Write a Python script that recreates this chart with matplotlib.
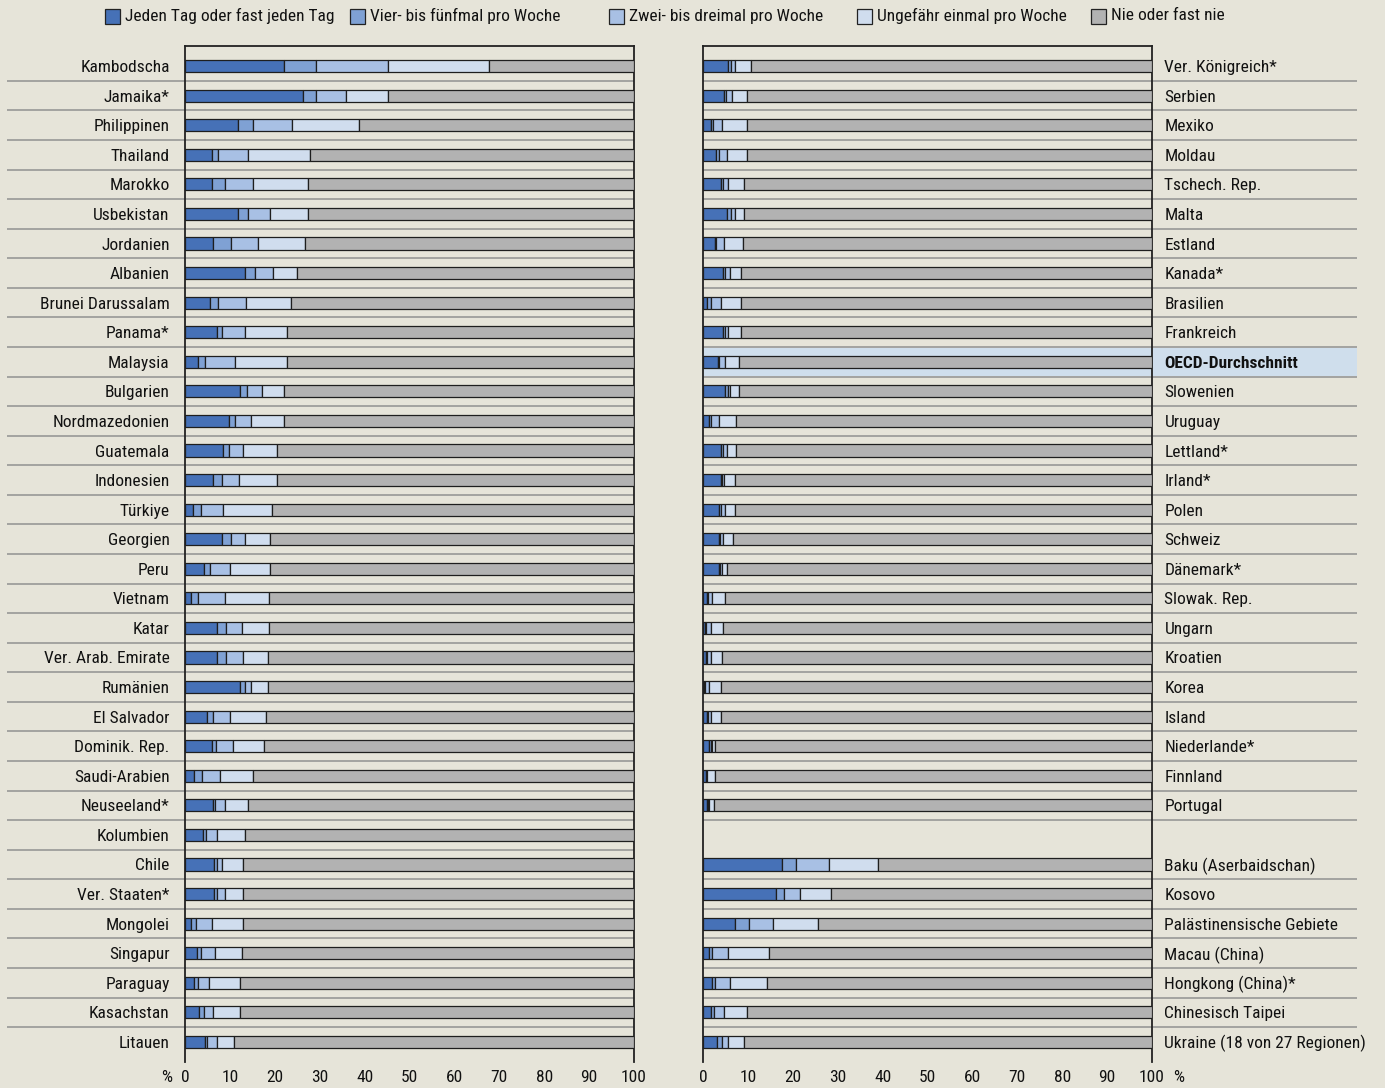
import matplotlib
matplotlib.use('Agg')
import matplotlib.pyplot as plt
from matplotlib import font_manager as fm
from matplotlib.patches import Rectangle
from matplotlib.transforms import blended_transform_factory
import numpy as np

# ---------------- data ----------------
series_names = ["Jeden Tag oder fast jeden Tag", "Vier- bis fünfmal pro Woche",
                "Zwei- bis dreimal pro Woche", "Ungefähr einmal pro Woche", "Nie oder fast nie"]
colors = ['#4671b7', '#7fa1d4', '#a8c0e4', '#d0ddee', '#b2b2b2']

left_labels = ["Kambodscha", "Jamaika*", "Philippinen", "Thailand", "Marokko", "Usbekistan",
               "Jordanien", "Albanien", "Brunei Darussalam", "Panama*", "Malaysia", "Bulgarien",
               "Nordmazedonien", "Guatemala", "Indonesien", "Türkiye", "Georgien", "Peru",
               "Vietnam", "Katar", "Ver. Arab. Emirate", "Rumänien", "El Salvador",
               "Dominik. Rep.", "Saudi-Arabien", "Neuseeland*", "Kolumbien", "Chile",
               "Ver. Staaten*", "Mongolei", "Singapur", "Paraguay", "Kasachstan", "Litauen"]
left_daily = [22.1, 26.3, 11.9, 6.0, 6.0, 11.9, 6.3, 13.4, 5.6, 7.1, 3.0, 12.3, 9.9, 8.4, 6.3,
              1.7, 8.2, 4.2, 1.3, 7.1, 7.1, 12.3, 4.9, 6.1, 2.1, 6.2, 3.9, 6.4, 6.4, 1.3, 2.7,
              2.1, 3.1, 4.5]
left_four_five = [7.1, 2.9, 3.3, 1.4, 2.8, 2.1, 3.9, 2.3, 1.8, 1.2, 1.5, 1.4, 1.3, 1.5, 1.9,
                  1.9, 2.1, 1.4, 1.5, 2.0, 2.0, 1.1, 1.4, 0.9, 1.7, 0.5, 0.8, 0.7, 0.7, 1.2,
                  0.9, 0.8, 1.2, 0.4]
left_two_three = [16.1, 6.6, 8.6, 6.6, 6.4, 5.0, 6.0, 4.0, 6.2, 5.1, 6.6, 3.5, 3.6, 3.1, 3.8,
                  4.8, 3.1, 4.4, 6.0, 3.6, 3.9, 1.4, 3.7, 3.6, 3.9, 2.1, 2.4, 1.1, 1.7, 3.6,
                  3.1, 2.4, 2.0, 2.2]
left_once = [22.5, 9.5, 14.9, 13.9, 12.2, 8.4, 10.5, 5.2, 10.0, 9.4, 11.7, 4.9, 7.3, 7.4, 8.4,
             10.9, 5.6, 9.0, 9.8, 5.9, 5.4, 3.6, 8.0, 6.9, 7.5, 5.2, 6.3, 4.8, 4.2, 6.9, 6.0,
             7.0, 6.0, 3.8]
left_never = [32.2, 54.7, 61.3, 72.1, 72.6, 72.6, 73.3, 75.1, 76.4, 77.2, 77.2, 77.9, 77.9,
              79.6, 79.6, 80.7, 81.0, 81.0, 81.4, 81.4, 81.6, 81.6, 82.0, 82.5, 84.8, 86.0,
              86.6, 87.0, 87.0, 87.0, 87.3, 87.7, 87.7, 89.1]

right_labels = ["Ver. Königreich*", "Serbien", "Mexiko", "Moldau", "Tschech. Rep.", "Malta",
                "Estland", "Kanada*", "Brasilien", "Frankreich", "OECD-Durchschnitt",
                "Slowenien", "Uruguay", "Lettland*", "Irland*", "Polen", "Schweiz",
                "Dänemark*", "Slowak. Rep.", "Ungarn", "Kroatien", "Korea", "Island",
                "Niederlande*", "Finnland", "Portugal", "",
                "Baku (Aserbaidschan)", "Kosovo", "Palästinensische Gebiete", "Macau (China)",
                "Hongkong (China)*", "Chinesisch Taipei", "Ukraine (18 von 27 Regionen)"]
right_daily = [5.6, 4.7, 1.8, 2.8, 3.9, 5.3, 2.6, 4.4, 0.8, 4.4, 3.3, 5.0, 1.4, 3.9, 3.9, 3.6,
               3.5, 3.5, 0.8, 0.4, 0.7, 0.3, 0.8, 1.4, 0.7, 0.8, None,
               17.5, 16.3, 7.1, 1.4, 2.1, 1.8, 3.2]
right_four_five = [0.6, 0.4, 0.4, 0.7, 0.5, 0.9, 0.2, 0.4, 0.9, 0.4, 0.3, 0.5, 0.4, 0.5, 0.3,
                   0.3, 0.2, 0.3, 0.3, 0.3, 0.3, 0.1, 0.3, 0.3, 0.1, 0.3, None,
                   3.3, 1.7, 3.1, 0.7, 0.6, 0.7, 1.0]
right_two_three = [0.9, 1.3, 2.1, 1.8, 1.2, 0.9, 1.8, 1.3, 2.2, 0.8, 1.4, 0.6, 1.7, 0.9, 0.5,
                   1.1, 0.8, 0.4, 1.0, 1.0, 0.7, 1.0, 0.6, 0.2, 0.2, 0.3, None,
                   7.3, 3.5, 5.5, 3.5, 3.3, 2.1, 1.4]
right_once = [3.5, 3.5, 5.6, 4.6, 3.5, 2.0, 4.2, 2.3, 4.5, 2.8, 3.1, 2.0, 3.8, 2.0, 2.4, 2.1,
              2.1, 1.1, 2.9, 2.8, 2.6, 2.5, 2.2, 0.8, 1.7, 1.1, None,
              10.9, 6.9, 9.9, 9.2, 8.2, 5.3, 3.5]
right_never = [89.4, 90.1, 90.1, 90.1, 90.9, 90.9, 91.2, 91.6, 91.6, 91.6, 91.9, 91.9, 92.7,
               92.7, 92.9, 92.9, 93.4, 94.7, 95.0, 95.5, 95.7, 96.1, 96.1, 97.3, 97.3, 97.5,
               None, 61.0, 71.6, 74.4, 85.2, 85.8, 90.1, 90.9]

x_ticks = list(range(0, 101, 10))
highlight_label = "OECD-Durchschnitt"

# ---------------- font choice (narrow font if available) ----------------
_names = {f.name for f in fm.fontManager.ttflist}
_dejavu_cond = any(f.name == 'DejaVu Sans' and str(f.stretch) in ('condensed', 'semi-condensed')
                   for f in fm.fontManager.ttflist)
if 'Liberation Sans Narrow' in _names:
    FAMILY, FS, STRETCH = 'Liberation Sans Narrow', 13, 'normal'
elif 'Roboto Condensed' in _names:
    FAMILY, FS, STRETCH = 'Roboto Condensed', 12.5, 'normal'
elif 'Arial Narrow' in _names:
    FAMILY, FS, STRETCH = 'Arial Narrow', 13, 'normal'
else:
    FAMILY, FS, STRETCH = 'Liberation Sans', 11, 'normal'
plt.rcParams['font.family'] = [FAMILY, 'Liberation Sans', 'DejaVu Sans']
plt.rcParams['font.stretch'] = STRETCH

# ---------------- styling ----------------
BG = '#e6e4d9'
EDGE = '#1e1e1e'
SEP = '#a3a3a0'
TXT = '#111111'
W, H = 1385, 1088

fig = plt.figure(figsize=(W / 100, H / 100), dpi=100, facecolor=BG)

AX_TOP, AX_BOT = 46, 1062


def add_axes(x0, x1):
    return fig.add_axes([x0 / W, 1 - AX_BOT / H, (x1 - x0) / W, (AX_BOT - AX_TOP) / H])


axL = add_axes(185, 634)
axR = add_axes(703, 1152)


def draw(ax, labels, series, side):
    n = len(labels)
    tr = blended_transform_factory(ax.transAxes, ax.transData)
    ax.set_facecolor('none')
    # highlight band
    if highlight_label in labels:
        k = labels.index(highlight_label)
        ax.add_patch(Rectangle((0, k - 0.5), 1.457, 1.0, transform=tr, facecolor='#cfdeec',
                               edgecolor='none', zorder=0.5, clip_on=False))
    # separator lines
    for k in range(n - 1):
        if labels[k] == "":
            continue
        xs = [-0.3965, 1.0] if side == 'left' else [0.0, 1.457]
        ax.plot(xs, [k + 0.5, k + 0.5], transform=tr, color=SEP, lw=1.4, zorder=1,
                clip_on=False, solid_capstyle='butt')
    # stacked bars
    idx = [i for i in range(n) if series[0][i] is not None]
    left = np.zeros(len(idx))
    for s, c in zip(series, colors):
        vals = np.array([s[i] for i in idx], dtype=float)
        ax.barh(idx, vals, left=left, height=0.41, color=c, edgecolor=EDGE,
                linewidth=0.9, zorder=3)
        left = left + vals
    ax.set_xlim(0, 100)
    ax.set_ylim(n - 1 + 0.68, -0.68)
    ax.set_xticks(x_ticks)
    ax.set_xticklabels([str(t) for t in x_ticks])
    ax.tick_params(axis='x', length=0, pad=6, labelsize=FS, colors=TXT)
    ax.set_yticks(range(n))
    ax.set_yticklabels(labels)
    if side == 'right':
        ax.yaxis.tick_right()
        ax.tick_params(axis='y', length=0, pad=9, labelsize=FS, colors=TXT)
        for t in ax.get_yticklabels():
            if t.get_text() == highlight_label:
                t.set_fontweight('bold')
    else:
        ax.tick_params(axis='y', length=0, pad=11, labelsize=FS, colors=TXT)
    for sp in ['left', 'right', 'top']:
        ax.spines[sp].set_color('#222222')
        ax.spines[sp].set_linewidth(1.3)
    ax.spines['bottom'].set_visible(False)


draw(axL, left_labels, [left_daily, left_four_five, left_two_three, left_once, left_never], 'left')
draw(axR, right_labels, [right_daily, right_four_five, right_two_three, right_once, right_never], 'right')

# percent signs
axL.text((167 - 185) / 449, -(15 / (AX_BOT - AX_TOP)), '%', transform=axL.transAxes,
         ha='center', va='center', fontsize=FS, color=TXT)
axR.text((1179 - 703) / 449, -(15 / (AX_BOT - AX_TOP)), '%', transform=axR.transAxes,
         ha='center', va='center', fontsize=FS, color=TXT)

# manual legend
leg_x = [105, 350, 609, 857, 1091]
for x, name, c in zip(leg_x, series_names, colors):
    fig.patches.append(Rectangle((x / W, 1 - 24 / H), 15 / W, 15 / H, transform=fig.transFigure,
                                 facecolor=c, edgecolor='#222222', linewidth=0.9))
    fig.text((x + 20) / W, 1 - 16 / H, name, ha='left', va='center', fontsize=FS, color=TXT)

fig.savefig('out.png', dpi=100, facecolor=BG)
